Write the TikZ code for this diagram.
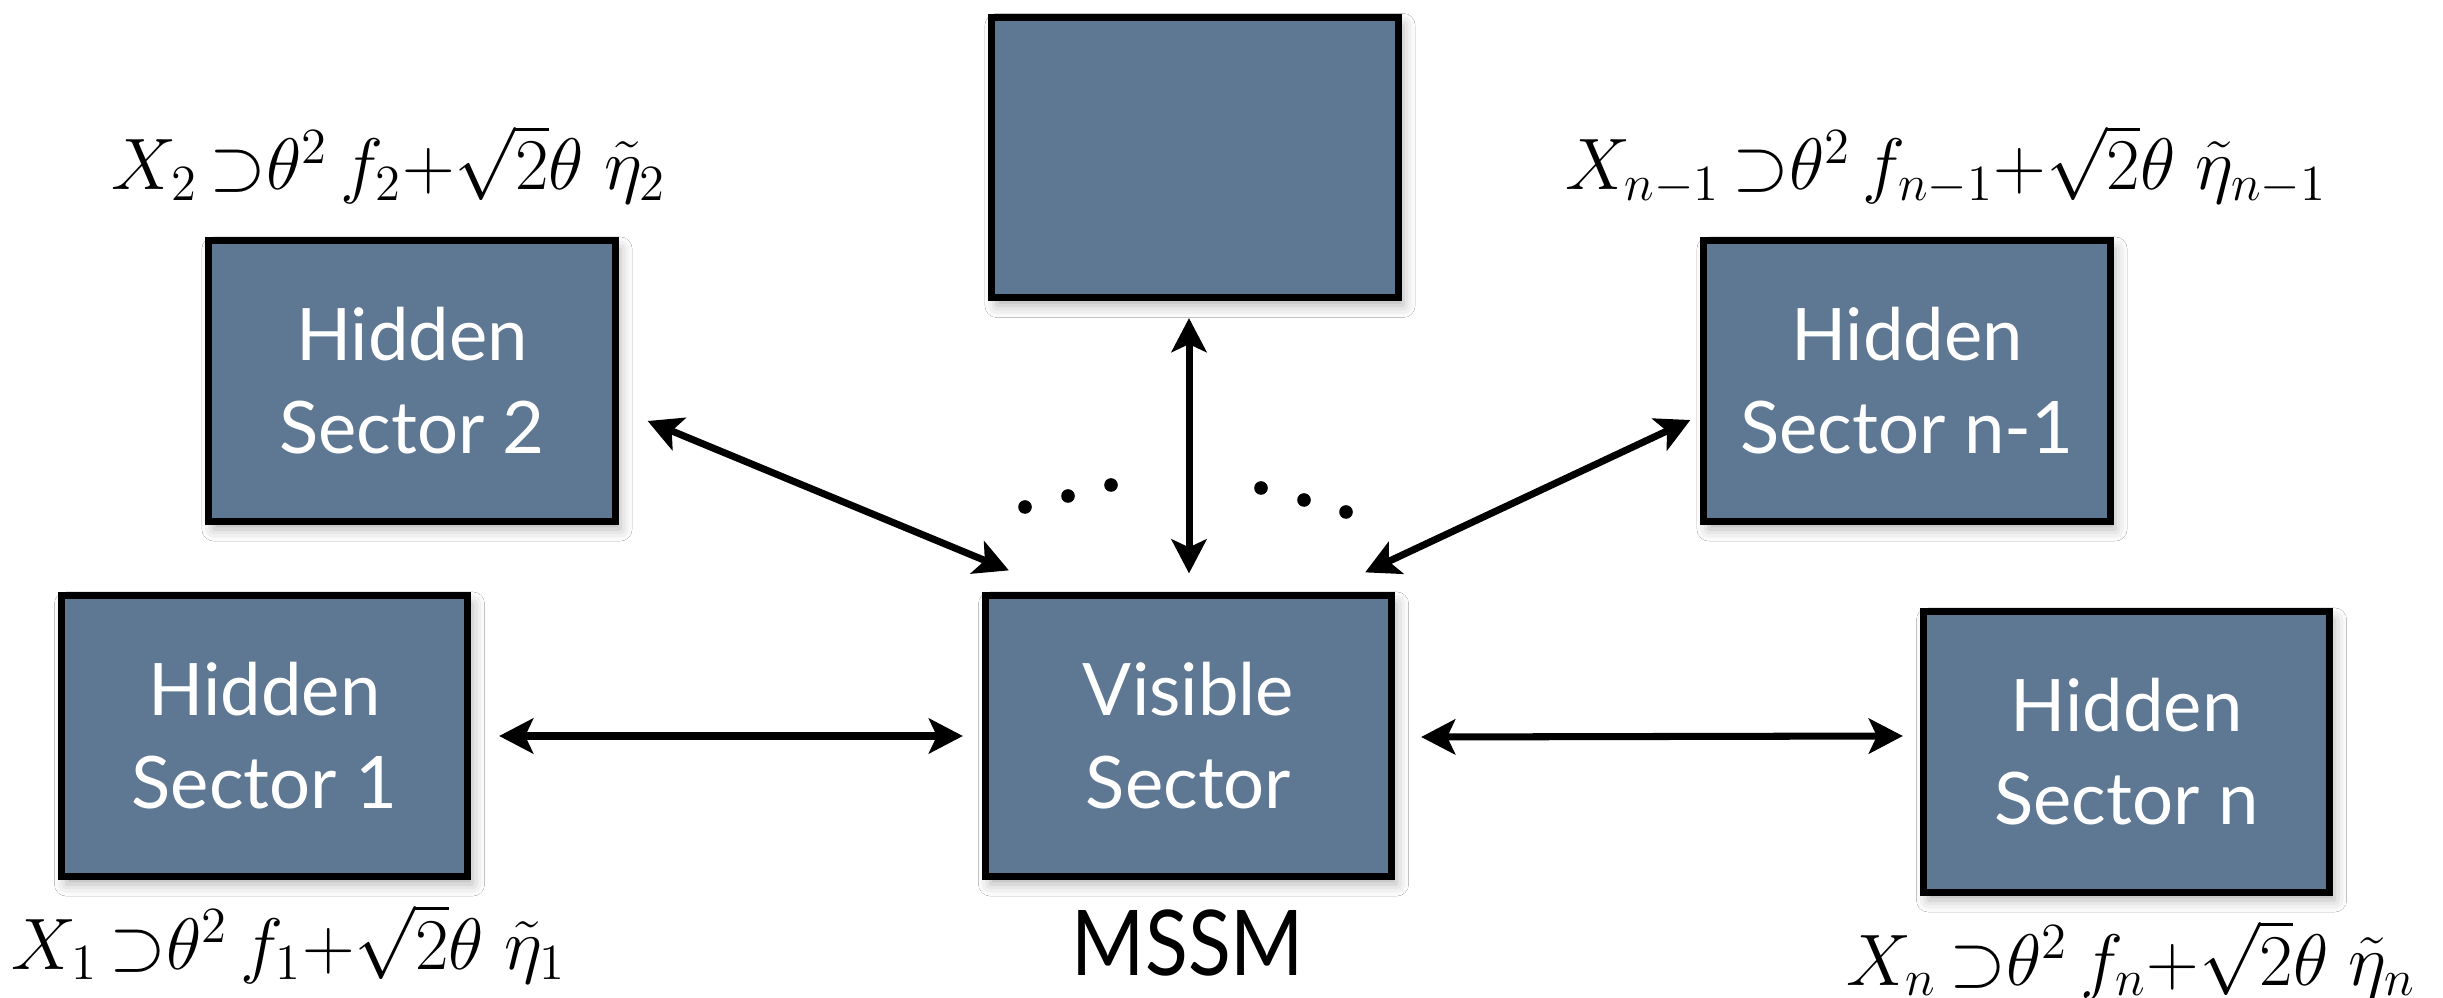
\documentclass[tikz,border=0pt]{standalone}
\usepackage{fontspec}
\usepackage{graphicx}
\setsansfont{Lato}
\usetikzlibrary{arrows.meta,calc,shadows.blur}
\definecolor{sectorblue}{RGB}{94,119,147}

\begin{document}
\begin{tikzpicture}[x=0.01cm,y=-0.01cm,
  sector/.style={draw=black, line width=2pt, fill=sectorblue,
    minimum width=4.06cm, minimum height=2.8cm, inner sep=0pt,
    text=white, align=center,
    font=\sffamily\fontsize{20.6pt}{26.4pt}\selectfont,
    blur shadow={shadow xshift=0.05cm, shadow yshift=-0.08cm,
      shadow blur radius=0.12cm, shadow opacity=30}},
  tipend/.tip={Stealth[length=0.34cm,width=0.35cm,inset=0.08cm]},
  conn/.style={line width=2pt, tipend-tipend},
  formula/.style={anchor=base, inner sep=0pt,
    font=\fontsize{19.3pt}{23pt}\selectfont},
  dotmark/.style={fill=black},
]
% canvas
\fill[white] (0,0) rectangle (2443,998);
\useasboundingbox (0,0) rectangle (2443,998);

% sector boxes
\node[sector] (top)  at (1195,157.5) {};
\node[sector] (hs2)  at (412,381)    {Hidden\\Sector 2};
\node[sector] (hsn1) at (1907,381)   {Hidden\\Sector n-1};
\node[sector] (hs1)  at (264.5,736)  {Hidden\\Sector 1};
\node[sector] (vs)   at (1188.5,736) {Visible\\Sector};
\node[sector] (hsn)  at (2126.5,752) {Hidden\\Sector n};

% label under the visible sector
\node[anchor=base, inner sep=0pt, font=\sffamily\fontsize{25.8pt}{30pt}\selectfont]
  (mssm) at (1188,975) {\scalebox{0.87}[1]{MSSM}};

% superfield expansions
\node[formula] (f2)  at (389,190)
  {$X_2\,{\supset}\theta^2\,f_2{+}\sqrt{2}\theta\;\tilde{\eta}_2$};
\node[formula] (fn1) at (1946,190)
  {$X_{n-1}\,{\supset}\theta^2\,f_{n-1}{+}\sqrt{2}\theta\;\tilde{\eta}_{n-1}$};
\node[formula] (f1)  at (289,969)
  {$X_1\,{\supset}\theta^2\,f_1{+}\sqrt{2}\theta\;\tilde{\eta}_1$};
\node[formula] (fn)  at (2131,985)
  {$X_n\,{\supset}\theta^2\,f_n{+}\sqrt{2}\theta\;\tilde{\eta}_n$};

% couplings to the visible sector
\draw[conn] ($(hs2.east)+(29,40)$) -- ($(vs.north west)+(27,-22)$);
\draw[conn] ($(top.south)+(-6,17)$) -- ($(vs.north)+(0.5,-19)$);
\draw[conn] ($(hsn1.west)+(-10,39)$) -- ($(vs.north east)+(-30,-20)$);
\draw[conn] ($(hs1.east)+(28,0)$) -- ($(vs.west)+(-19,0)$);
\draw[conn] ($(vs.east)+(26,1)$) -- ($(hsn.west)+(-17,-16)$);

% ellipsis dots
\coordinate (l1) at (1025,507);
\coordinate (l2) at (1068,496);
\coordinate (l3) at (1111,485);
\coordinate (r1) at (1261,488);
\coordinate (r2) at (1304,500);
\coordinate (r3) at (1346,512);
\foreach \p in {l1,l2,l3,r1,r2,r3}
  \fill[dotmark] (\p) circle[radius=0.068cm];
\end{tikzpicture}
\end{document}
